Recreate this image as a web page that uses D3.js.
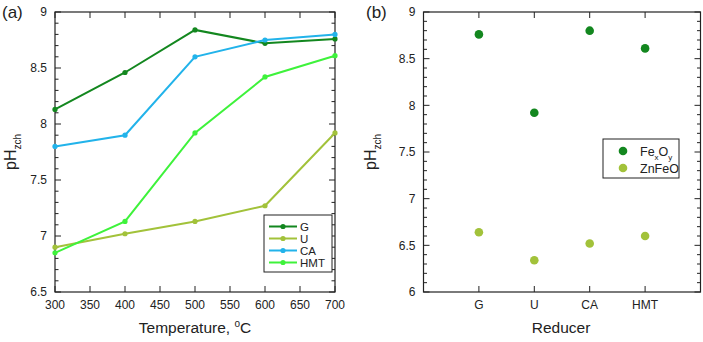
<!DOCTYPE html>
<html><head><meta charset="utf-8">
<script src="https://cdn.jsdelivr.net/npm/d3@7"></script>
<style>body{margin:0;background:#fff}svg{display:block}text{font-family:"Liberation Sans",Arial,sans-serif;fill:#222}</style>
</head><body><svg id="c" width="703" height="342"></svg>
<script>
const temps = [300, 400, 500, 600, 700];
const seriesNames = ["G", "U", "CA", "HMT"];
const seriesColors = ["#13871f", "#a2c23a", "#22b3ea", "#3ef23b"];
const gVals = [8.13, 8.46, 8.84, 8.72, 8.76];
const uVals = [6.90, 7.02, 7.13, 7.27, 7.92];
const caVals = [7.80, 7.90, 8.60, 8.75, 8.80];
const hmtVals = [6.85, 7.13, 7.92, 8.42, 8.61];
const xTicksA = [300, 350, 400, 450, 500, 550, 600, 650, 700];
const yTicksA = [6.5, 7, 7.5, 8, 8.5, 9];

const reducers = ["G", "U", "CA", "HMT"];
const fexoy = [8.76, 7.92, 8.80, 8.61];
const znfeo = [6.64, 6.34, 6.52, 6.60];
const pointColors = ["#13871f", "#a2c23a"];
const yTicksB = [6, 6.5, 7, 7.5, 8, 8.5, 9];

const svg = d3.select("#c");
const fmt = d => String(d);

function frame(g, x, y, xt, yt, yMinorStep) {
  const [x0, x1] = x.range(), [y0, y1] = y.range();
  g.append("rect").attr("x", x0).attr("y", y1).attr("width", x1 - x0).attr("height", y0 - y1)
    .attr("fill", "none").attr("stroke", "#222").attr("stroke-width", 1.2);
  const [d0, d1] = y.domain();
  const minors = d3.range(Math.round(d0 / yMinorStep), Math.round(d1 / yMinorStep) + 1).map(i => i * yMinorStep);
  minors.forEach(v => {
    const major = yt.some(t => Math.abs(t - v) < 1e-6);
    const L = major ? 6 : 3.5;
    g.append("line").attr("x1", x0).attr("x2", x0 + L).attr("y1", y(v)).attr("y2", y(v)).attr("stroke", "#222");
    g.append("line").attr("x1", x1).attr("x2", x1 - L).attr("y1", y(v)).attr("y2", y(v)).attr("stroke", "#222");
  });
  yt.forEach(v => {
    g.append("text").attr("x", x0 - 8).attr("y", y(v)).attr("dy", "0.35em").attr("text-anchor", "end")
      .attr("font-size", 12).text(fmt(v));
  });
  xt.forEach(t => {
    const xv = x(t.v);
    g.append("line").attr("x1", xv).attr("x2", xv).attr("y1", y0).attr("y2", y0 - 6).attr("stroke", "#222");
    g.append("line").attr("x1", xv).attr("x2", xv).attr("y1", y1).attr("y2", y1 + 6).attr("stroke", "#222");
    g.append("text").attr("x", xv).attr("y", y0 + 17).attr("text-anchor", "middle").attr("font-size", 12).text(t.l);
  });
}

function yTitle(g, cx, cy) {
  const t = g.append("text").attr("transform", `translate(${cx},${cy}) rotate(-90)`).attr("text-anchor", "middle").attr("font-size", 16);
  t.append("tspan").text("pH");
  t.append("tspan").attr("font-size", 10).attr("dy", 5).text("zch");
}

// Panel (a)
const ga = svg.append("g");
const xa = d3.scaleLinear().domain([300, 700]).range([55, 335]);
const ya = d3.scaleLinear().domain([6.5, 9]).range([292, 12]);
frame(ga, xa, ya, xTicksA.map(v => ({v, l: v})), yTicksA, 0.1);
const seriesVals = [gVals, uVals, caVals, hmtVals];
const line = d3.line().x((d, i) => xa(temps[i])).y(d => ya(d));
seriesVals.forEach((vals, s) => {
  ga.append("path").attr("d", line(vals)).attr("fill", "none").attr("stroke", seriesColors[s]).attr("stroke-width", 2);
  ga.selectAll(null).data(vals).enter().append("circle").attr("cx", (d, i) => xa(temps[i])).attr("cy", d => ya(d))
    .attr("r", 2.6).attr("fill", seriesColors[s]);
});
ga.append("text").attr("x", 2).attr("y", 18).attr("font-size", 17).text("(a)");
ga.append("text").attr("x", 195).attr("y", 333).attr("text-anchor", "middle").attr("font-size", 15.5).html("Temperature, <tspan font-size='10' dy='-6'>o</tspan><tspan dy='6'>C</tspan>");
yTitle(ga, 16, 152);
// legend a
const la = ga.append("g");
la.append("rect").attr("x", 264).attr("y", 215).attr("width", 68).attr("height", 57).attr("fill", "#fff").attr("stroke", "#222");
seriesNames.forEach((n, s) => {
  const yy = 226.5 + s * 12;
  la.append("line").attr("x1", 269).attr("x2", 297).attr("y1", yy).attr("y2", yy).attr("stroke", seriesColors[s]).attr("stroke-width", 2);
  la.append("circle").attr("cx", 283).attr("cy", yy).attr("r", 2.6).attr("fill", seriesColors[s]);
  la.append("text").attr("x", 300).attr("y", yy).attr("dy", "0.35em").attr("font-size", 11.5).text(n);
});

// Panel (b)
const gb = svg.append("g");
const xb = d3.scaleLinear().domain([0, 5]).range([423.5, 700.5]);
const yb = d3.scaleLinear().domain([6, 9]).range([292, 12]);
frame(gb, xb, yb, reducers.map((r, i) => ({v: i + 1, l: r})), yTicksB, 0.1);
[fexoy, znfeo].forEach((vals, s) => {
  gb.selectAll(null).data(vals).enter().append("circle").attr("cx", (d, i) => xb(i + 1)).attr("cy", d => yb(d))
    .attr("r", 4.3).attr("fill", pointColors[s]);
});
gb.append("text").attr("x", 366).attr("y", 18).attr("font-size", 17).text("(b)");
gb.append("text").attr("x", 561).attr("y", 333).attr("text-anchor", "middle").attr("font-size", 15.5).text("Reducer");
yTitle(gb, 376, 152);
const lb = gb.append("g");
lb.append("rect").attr("x", 603).attr("y", 139).attr("width", 76).attr("height", 39).attr("fill", "#fff").attr("stroke", "#222");
lb.append("circle").attr("cx", 623).attr("cy", 151).attr("r", 4.3).attr("fill", pointColors[0]);
lb.append("circle").attr("cx", 623).attr("cy", 168).attr("r", 4.3).attr("fill", pointColors[1]);
const t1 = lb.append("text").attr("x", 640).attr("y", 151).attr("dy", "0.36em").attr("font-size", 12.5);
t1.append("tspan").text("Fe");
t1.append("tspan").attr("font-size", 8).attr("dy", 4).text("x");
t1.append("tspan").attr("dy", -4).text("O");
t1.append("tspan").attr("font-size", 8).attr("dy", 4).text("y");
lb.append("text").attr("x", 640).attr("y", 168).attr("dy", "0.36em").attr("font-size", 12.5).text("ZnFeO");
</script></body></html>
